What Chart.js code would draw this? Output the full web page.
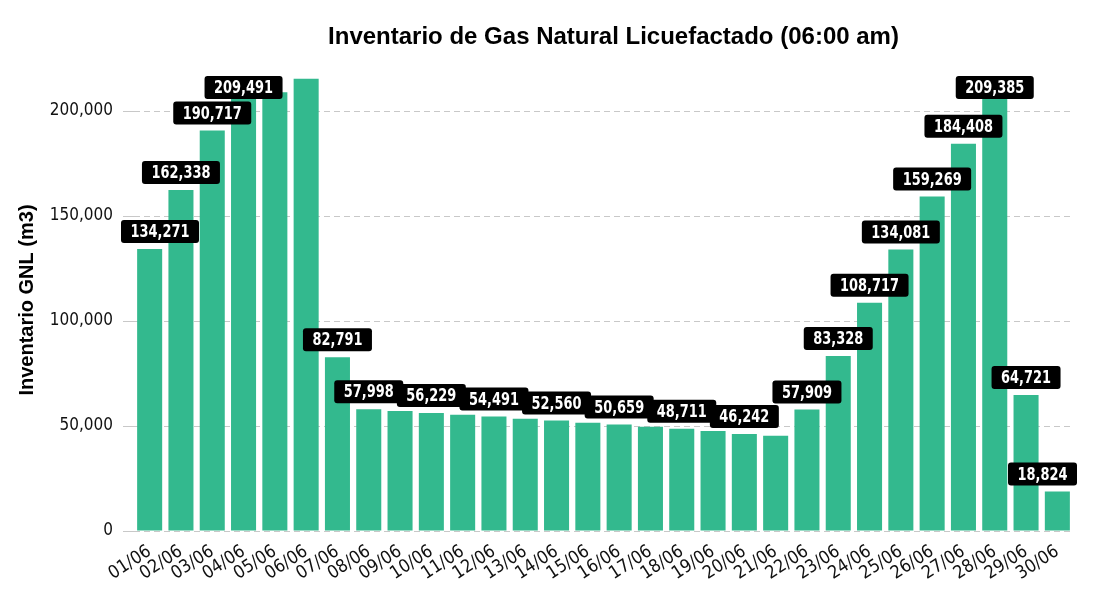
<!DOCTYPE html>
<html>
<head>
<meta charset="utf-8">
<script src="https://cdn.jsdelivr.net/npm/chart.js@4"></script>
<style>
  html, body { margin: 0; padding: 0; background: #fff; }
  #wrap { width: 1101px; height: 603px; }
</style>
</head>
<body>
<div id="wrap"><canvas id="inventario"></canvas></div>
<script>
var dias = ["01/06","02/06","03/06","04/06","05/06","06/06","07/06","08/06","09/06","10/06",
            "11/06","12/06","13/06","14/06","15/06","16/06","17/06","18/06","19/06","20/06",
            "21/06","22/06","23/06","24/06","25/06","26/06","27/06","28/06","29/06","30/06"];

var inventario = [134271, 162338, 190717, 209491, 208900, 215300, 82791, 57998, 57100, 56229,
                  55400, 54491, 53500, 52560, 51600, 50659, 49700, 48711, 47600, 46242,
                  45300, 57909, 83328, 108717, 134081, 159269, 184408, 209385, 64721, 18824];

var marcasY = [0, 50000, 100000, 150000, 200000];

var titulo = "Inventario de Gas Natural Licuefactado (06:00 am)";
var tituloEje = "Inventario GNL (m3)";

var fmt = function (v) { return v.toLocaleString('en-US'); };

// etiquetas negras sobre cada barra, se ocultan si chocan con otra (como display:'auto')
var ESTRECHO = 0.8; // la fuente original es mas estrecha
var etiquetas = {
  id: 'etiquetas',
  afterDatasetsDraw: function (chart) {
    var ctx = chart.ctx;
    var area = chart.chartArea;
    var meta = chart.getDatasetMeta(0);
    var shown = [];
    ctx.save();
    ctx.font = 'bold 18px "DejaVu Sans Condensed", "DejaVu Sans"';
    meta.data.forEach(function (bar, i) {
      var txt = fmt(inventario[i]);
      var w = ctx.measureText(txt).width * ESTRECHO;
      var h = 16;
      var bw = w + 19, bh = 23;
      var left = bar.x - bw / 2;
      if (left < area.left - 13) left = area.left - 13;
      if (left + bw > area.right + 4) left = area.right + 4 - bw;
      var cx = left + bw / 2;
      var top = bar.y - 6 - bh;
      // fuera del area: se oculta; si roza el borde, se empuja hacia dentro
      if (top + bh / 2 < area.top) return;
      if (top < area.top + 7) top = area.top + 7;
      var ty = top + bh / 2;
      var r = { x1: cx - w / 2, x2: cx + w / 2, y1: ty - h / 2, y2: ty + h / 2 };
      for (var k = 0; k < shown.length; k++) {
        var s = shown[k];
        if (r.x1 < s.x2 && r.x2 > s.x1 && r.y1 < s.y2 && r.y2 > s.y1) return;
      }
      shown.push(r);
      ctx.fillStyle = '#000';
      ctx.beginPath();
      ctx.roundRect(left, top, bw, bh, 3);
      ctx.fill();
      ctx.save();
      ctx.translate(cx, ty + 1);
      ctx.scale(ESTRECHO, 1);
      ctx.fillStyle = '#fff';
      ctx.textAlign = 'center';
      ctx.textBaseline = 'middle';
      ctx.fillText(txt, 0, 0);
      ctx.restore();
    });
    ctx.restore();
  }
};

var tituloPlugin = {
  id: 'tituloPlugin',
  afterDraw: function (chart) {
    var ctx = chart.ctx;
    var area = chart.chartArea;
    ctx.save();
    ctx.font = 'bold 24px "Liberation Sans", Arial';
    ctx.fillStyle = '#000';
    ctx.textAlign = 'center';
    ctx.textBaseline = 'middle';
    ctx.fillText(titulo, (area.left + area.right) / 2 + 10, 37);
    ctx.restore();
  }
};

var ctx = document.getElementById('inventario').getContext('2d');
window.grafico = new Chart(ctx, {
  type: 'bar',
  data: {
    labels: dias,
    datasets: [{
      data: inventario,
      label: tituloEje,
      backgroundColor: '#33b98e',
      barPercentage: 0.8,
      categoryPercentage: 1.0
    }]
  },
  options: {
    responsive: true,
    maintainAspectRatio: false,
    animation: false,
    layout: { padding: { top: 69, right: 28, left: 0, bottom: 0 } },
    plugins: {
      legend: { display: false },
      tooltip: { enabled: false }
    },
    scales: {
      x: {
        grid: { display: false },
        border: { display: false },
        ticks: {
          color: '#111',
          font: { family: '"DejaVu Sans Condensed", "DejaVu Sans"', size: 18 },
          minRotation: 33,
          maxRotation: 33,
          autoSkip: false,
          padding: 2
        },
        afterFit: function (scale) { scale.height = 72; }
      },
      y: {
        min: 0,
        max: 220000,
        grid: { color: '#c8c8c8', tickLength: 11, tickColor: '#c8c8c8' },
        border: { display: false, dash: [6, 4] },
        afterBuildTicks: function (scale) {
          scale.ticks = marcasY.map(function (v) { return { value: v }; });
        },
        ticks: {
          autoSkip: false,
          color: '#111',
          padding: 10,
          font: { family: '"DejaVu Sans Condensed", "DejaVu Sans"', size: 17 },
          callback: function (v) { return fmt(v); }
        },
        title: {
          display: true,
          text: tituloEje,
          color: '#000',
          font: { family: '"Liberation Sans", Arial', size: 20, weight: 'bold' },
          padding: { top: 15, bottom: 0 }
        },
        afterFit: function (scale) { scale.width = 134; }
      }
    }
  },
  plugins: [etiquetas, tituloPlugin]
});
</script>
</body>
</html>
